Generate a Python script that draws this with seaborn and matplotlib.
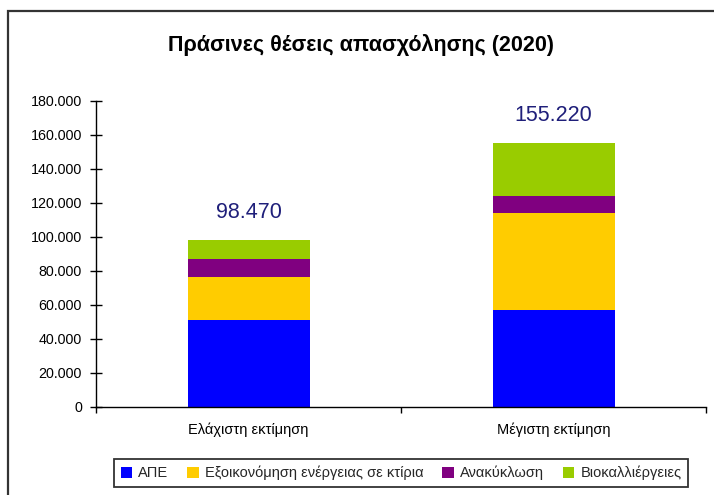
import matplotlib
matplotlib.use("Agg")
import matplotlib.pyplot as plt
import matplotlib.ticker as mticker
from matplotlib.patches import Rectangle, Patch
import seaborn as sns
import pandas as pd
import numpy as np

categories = ["Ελάχιστη εκτίμηση", "Μέγιστη εκτίμηση"]
series_names = ["ΑΠΕ", "Εξοικονόμηση ενέργειας σε κτίρια", "Ανακύκλωση", "Βιοκαλλιέργειες"]
ape = [51000, 57000]
exoikonomisi = [25500, 57000]
anakyklosi = [10500, 10200]
viokalliergeies = [11470, 31020]
totals_labels = ["98.470", "155.220"]
colors = ["#0000FF", "#FFCC00", "#800080", "#99CC00"]

sns.set_theme(style="white")
plt.rcParams['font.family'] = ['Liberation Sans', 'DejaVu Sans']

fig = plt.figure(figsize=(7.14, 4.95), dpi=100)
ax = fig.add_axes([96/714, 1-407/495, (706-96)/714, (407-101)/495])

series = [ape, exoikonomisi, anakyklosi, viokalliergeies]
cum = np.cumsum(np.array(series), axis=0)
for i in range(len(series)-1, -1, -1):
    df = pd.DataFrame({"cat": categories, "val": cum[i]})
    sns.barplot(data=df, x="cat", y="val", color=colors[i], width=0.4,
                saturation=1, ax=ax, edgecolor="none", linewidth=0)

ax.set_xlim(-0.5, 1.5)
ax.set_ylim(0, 180000)
ax.set_yticks(np.arange(0, 180001, 20000))
ax.yaxis.set_major_formatter(mticker.FuncFormatter(lambda v, p: f"{int(v):,}".replace(",", ".")))
ax.set_xlabel("")
ax.set_ylabel("")
for s in ["top", "right"]:
    ax.spines[s].set_visible(False)
for s in ["left", "bottom"]:
    ax.spines[s].set_color("black")
    ax.spines[s].set_linewidth(1.0)
ax.tick_params(axis="y", direction="inout", length=8, width=1, color="black",
               labelsize=10.3, labelcolor="black", left=True, pad=6)
ax.tick_params(axis="x", length=0, labelsize=10.5, labelcolor="black", pad=11)
ax.set_xticks([0, 1])
ax.set_xticklabels(categories)
ax.set_xticks([-0.5, 0.5, 1.5], minor=True)
ax.tick_params(axis="x", which="minor", direction="out", length=4, width=1, color="black", bottom=True)

for i, lab in enumerate(totals_labels):
    ax.text(i, cum[-1][i] + 10000, lab, ha="center", va="bottom",
            fontsize=15.5, color="#1F1F7A")

fig.text(361/714, 1-45/495, "Πράσινες θέσεις απασχόλησης (2020)", ha="center", va="center",
         fontsize=15.5, fontweight="bold", color="black")

handles = [Patch(facecolor=c, edgecolor="none") for c in colors]
leg = fig.legend(handles, series_names, loc="center", bbox_to_anchor=(401/714, 1-473/495),
                 ncol=4, frameon=True, fontsize=10.5, handlelength=0.8, handleheight=0.8,
                 handletextpad=0.4, columnspacing=1.3, borderpad=0.45, fancybox=False)
leg.get_frame().set_edgecolor("black")
leg.get_frame().set_linewidth(1.3)

fig.patches.append(Rectangle((8/714, -0.1), 1.2, 1-11/495+0.1, transform=fig.transFigure,
                             fill=False, edgecolor="#333333", linewidth=1.6))

fig.savefig("out.png", dpi=100)
